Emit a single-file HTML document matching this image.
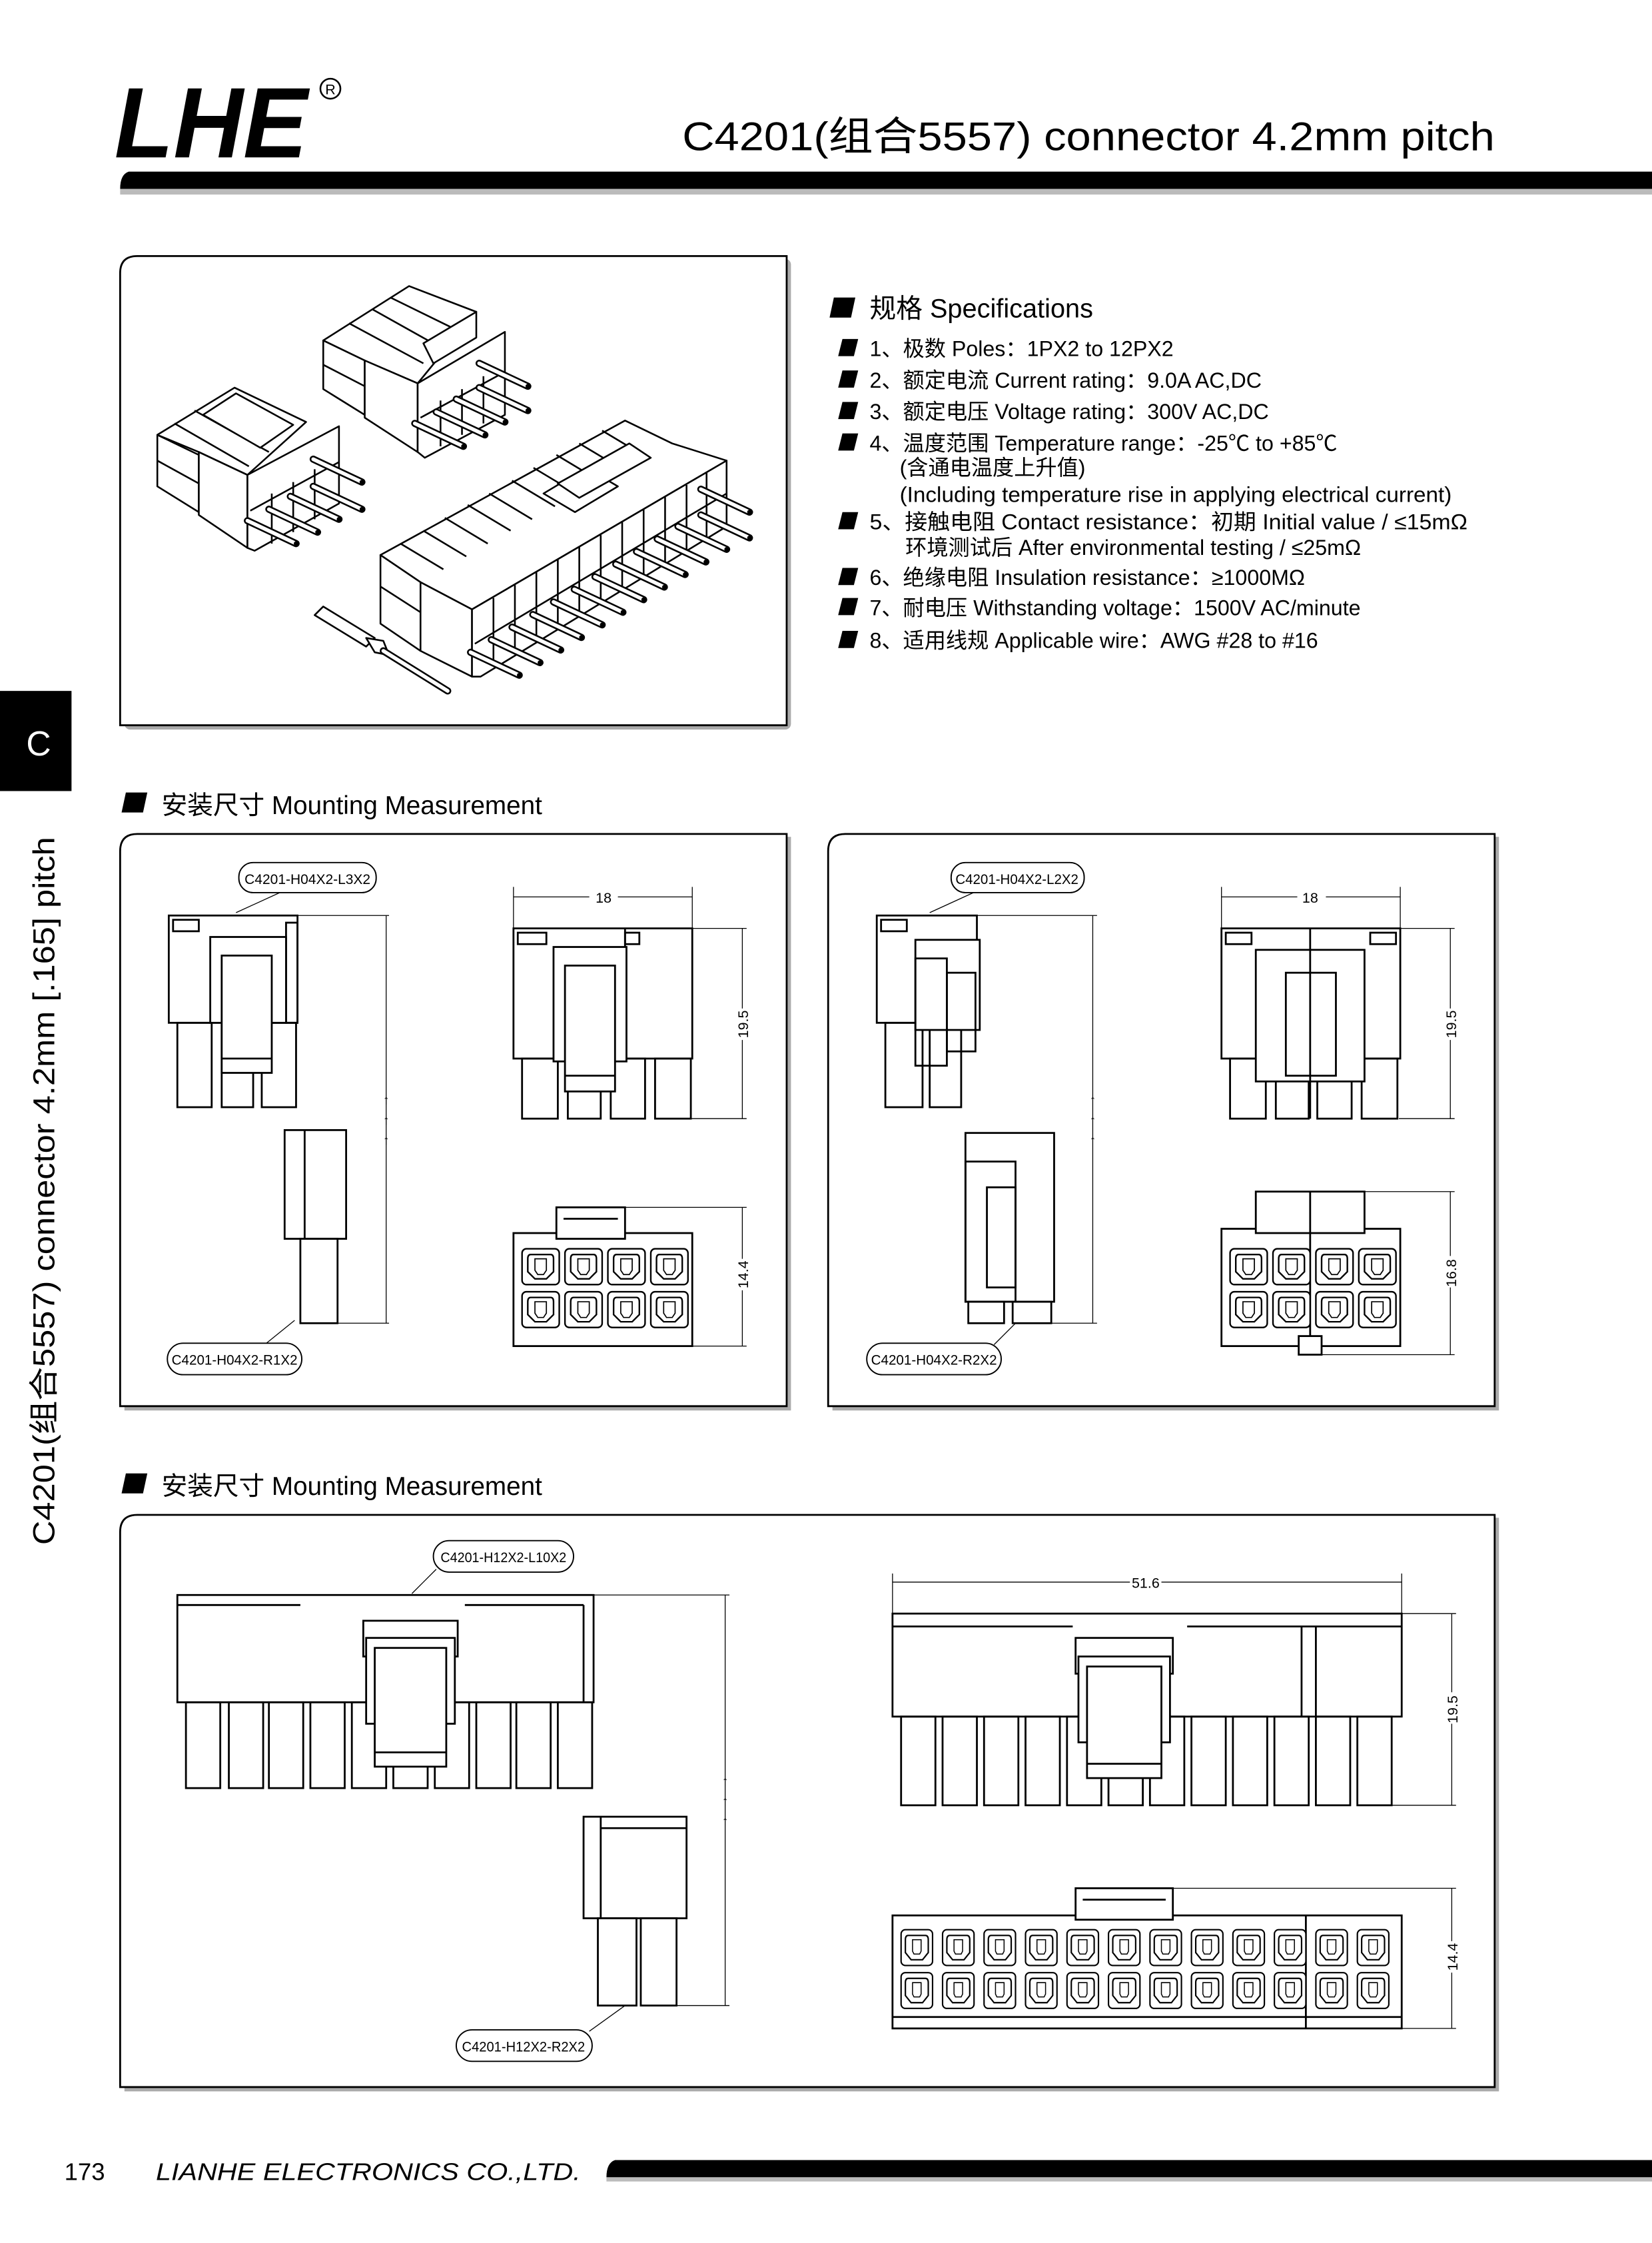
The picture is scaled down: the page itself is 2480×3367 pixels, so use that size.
<!DOCTYPE html>
<html><head><meta charset="utf-8"><style>
html,body{margin:0;padding:0;background:#fff}
svg{display:block}
text{font-family:"Liberation Sans","Noto Sans CJK SC",sans-serif}
</style></head><body>
<svg width="2480" height="3367" viewBox="0 0 1155 1568" preserveAspectRatio="none" xmlns="http://www.w3.org/2000/svg">
<defs>
<g id="cav">
<rect x="0" y="0" width="26" height="25" rx="3" fill="#fff" stroke="#000" stroke-width="1.1"/>
<path d="M6,4 H20 Q22,4 22,7 V16 L17,21 H9 L4,16 V7 Q4,4 6,4 Z" fill="none" stroke="#000" stroke-width="1.1"/>
<path d="M9,7 H17 V15 L15,18 H11 L9,15 Z" fill="none" stroke="#000" stroke-width="0.8"/>
</g>
<g id="cavs">
<rect x="0" y="0" width="22" height="25" rx="3" fill="#fff" stroke="#000" stroke-width="1"/>
<path d="M5,4 H17 Q19,4 19,7 V16 L15,21 H7 L3,16 V7 Q3,4 5,4 Z" fill="none" stroke="#000" stroke-width="1"/>
<path d="M8,7 H14 V15 L13,17 H9 L8,15 Z" fill="none" stroke="#000" stroke-width="0.7"/>
</g>
<g id="pin"><line x1="-34" y1="-16" x2="0" y2="0" stroke="#000" stroke-width="5" stroke-linecap="round"/><line x1="-34" y1="-16" x2="0" y2="0" stroke="#fff" stroke-width="2.6" stroke-linecap="round"/><circle cx="0" cy="0" r="1.6" fill="#000"/></g>
</defs>

<!-- Header -->
<text x="80" y="110" font-size="70" font-weight="bold" font-style="italic" textLength="135" lengthAdjust="spacingAndGlyphs">LHE</text>
<circle cx="231" cy="62" r="7" fill="none" stroke="#000" stroke-width="1.2"/>
<text x="231" y="66" font-size="10" text-anchor="middle">R</text>
<text x="477" y="105" font-size="28" textLength="568" lengthAdjust="spacingAndGlyphs">C4201(组合5557) connector 4.2mm pitch</text>
<rect x="84" y="132" width="1071" height="4" fill="#bbb"/>
<path d="M90,120 H1155 V132 H84 Q84,122 90,120 Z" fill="#000"/>

<!-- Left tab -->
<rect x="0" y="483" width="50" height="70" fill="#000"/>
<text x="27" y="528" font-size="24" fill="#fff" text-anchor="middle">C</text>
<text transform="translate(38,1080) rotate(-90)" font-size="21" textLength="495" lengthAdjust="spacingAndGlyphs">C4201(组合5557) connector 4.2mm [.165] pitch</text>

<!-- Panels -->
<g fill="#fff" stroke="#000" stroke-width="1.3">
<rect x="87" y="181" width="466" height="329" rx="4" fill="#aaa" stroke="none"/>
<path d="M96,179 H550 V507 H84 V191 Q84,179 96,179 Z"/>
<rect x="87" y="585" width="466" height="401" fill="#aaa" stroke="none"/>
<path d="M96,583 H550 V983 H84 V595 Q84,583 96,583 Z"/>
<rect x="582" y="585" width="466" height="401" fill="#aaa" stroke="none"/>
<path d="M591,583 H1045 V983 H579 V595 Q579,583 591,583 Z"/>
<rect x="87" y="1061" width="961" height="401" fill="#aaa" stroke="none"/>
<path d="M96,1059 H1045 V1459 H84 V1071 Q84,1059 96,1059 Z"/>
</g>

<!-- Specs -->
<g font-size="15">
<path d="M583,208 h15 l-3,14 h-15 z" fill="#000"/>
<text x="608" y="222" font-size="18.5">规格 Specifications</text>
<g fill="#000">
<path d="M589,237 h11 l-3,12 h-11 z"/><path d="M589,259 h11 l-3,12 h-11 z"/><path d="M589,281 h11 l-3,12 h-11 z"/><path d="M589,303 h11 l-3,12 h-11 z"/><path d="M589,358 h11 l-3,12 h-11 z"/><path d="M589,397 h11 l-3,12 h-11 z"/><path d="M589,418 h11 l-3,12 h-11 z"/><path d="M589,441 h11 l-3,12 h-11 z"/>
</g>
<text x="608" y="249">1、极数 Poles：1PX2 to 12PX2</text>
<text x="608" y="271">2、额定电流 Current rating：9.0A  AC,DC</text>
<text x="608" y="293">3、额定电压 Voltage rating：300V  AC,DC</text>
<text x="608" y="315">4、温度范围 Temperature range：-25℃ to +85℃</text>
<text x="629" y="332">(含通电温度上升值)</text>
<text x="629" y="351" textLength="386" lengthAdjust="spacingAndGlyphs">(Including temperature rise in applying electrical current)</text>
<text x="608" y="370" textLength="418" lengthAdjust="spacingAndGlyphs">5、接触电阻 Contact resistance：初期 Initial value / ≤15mΩ</text>
<text x="633" y="388">环境测试后 After environmental testing / ≤25mΩ</text>
<text x="608" y="409">6、绝缘电阻 Insulation resistance：≥1000MΩ</text>
<text x="608" y="430">7、耐电压 Withstanding voltage：1500V  AC/minute</text>
<text x="608" y="453">8、适用线规 Applicable wire：AWG #28 to #16</text>
</g>

<!-- Section headings -->
<path d="M88,554 h15 l-3,14 h-15 z" fill="#000"/>
<text x="113" y="569" font-size="18">安装尺寸 Mounting Measurement</text>
<path d="M88,1030 h15 l-3,14 h-15 z" fill="#000"/>
<text x="113" y="1045" font-size="18">安装尺寸 Mounting Measurement</text>

<!-- 3D drawing (approximate) -->
<g fill="#fff" stroke="#000" stroke-width="1.2" stroke-linejoin="round">
<!-- connector A -->
<polygon points="110,304 164,271 214,295 173,332 139,316"/>
<polygon points="110,304 139,318 139,358 110,340"/>
<polygon points="139,316 173,332 173,383 139,360"/>
<polygon points="173,332 237,298 237,352 178,385 173,383"/>
<line x1="110" y1="322" x2="139" y2="338"/><line x1="122" y1="296" x2="174" y2="326"/><line x1="136" y1="287" x2="188" y2="316"/>
<polygon points="142,290 165,275 205,297 182,313"/>
<line x1="190" y1="345" x2="190" y2="380"/><line x1="205" y1="337" x2="205" y2="372"/><line x1="220" y1="328" x2="220" y2="363"/>
<line x1="175" y1="357" x2="237" y2="323"/>
<!-- connector B -->
<polygon points="226,238 286,200 333,218 292,268 255,252"/>
<polygon points="226,238 255,252 255,290 226,272"/>
<polygon points="255,252 292,268 292,316 255,292"/>
<polygon points="292,268 353,232 353,290 297,320 292,316"/>
<line x1="226" y1="255" x2="255" y2="270"/><line x1="244" y1="226" x2="296" y2="254"/><line x1="260" y1="216" x2="310" y2="244"/><line x1="273" y1="208" x2="322" y2="232"/>
<polygon points="296,240 333,218 333,236 303,254"/>
<line x1="308" y1="280" x2="308" y2="312"/><line x1="323" y1="272" x2="323" y2="304"/><line x1="338" y1="263" x2="338" y2="296"/>
<line x1="294" y1="292" x2="353" y2="260"/>
<!-- connector C -->
<polygon points="266,388 437,294 470,310 508,322 330,426 294,407"/>
<polygon points="266,388 294,407 294,455 266,436"/>
<polygon points="294,407 330,426 330,473 294,455"/>
<polygon points="330,426 508,322 508,368 336,473 330,473"/>
<line x1="266" y1="410" x2="294" y2="428"/>
<line x1="280" y1="380" x2="310" y2="398"/><line x1="296" y1="371" x2="326" y2="389"/><line x1="311" y1="362" x2="341" y2="380"/><line x1="327" y1="353" x2="357" y2="371"/><line x1="342" y1="345" x2="372" y2="363"/><line x1="358" y1="336" x2="388" y2="354"/><line x1="373" y1="327" x2="403" y2="345"/><line x1="389" y1="318" x2="419" y2="336"/><line x1="405" y1="310" x2="435" y2="328"/><line x1="421" y1="301" x2="451" y2="319"/>
<polygon points="380,345 410,327 432,340 402,358" />
<polygon points="390,338 440,310 455,320 405,348"/>
<line x1="345" y1="418" x2="345" y2="465"/><line x1="360" y1="409" x2="360" y2="456"/><line x1="375" y1="400" x2="375" y2="447"/><line x1="390" y1="391" x2="390" y2="438"/><line x1="405" y1="382" x2="405" y2="429"/><line x1="420" y1="374" x2="420" y2="421"/><line x1="435" y1="365" x2="435" y2="412"/><line x1="450" y1="356" x2="450" y2="403"/><line x1="465" y1="347" x2="465" y2="394"/><line x1="480" y1="339" x2="480" y2="386"/><line x1="494" y1="330" x2="494" y2="377"/>
<line x1="332" y1="450" x2="508" y2="345"/>
<!-- terminal -->
<polygon points="220,430 226,424 262,446 256,452"/>
<polygon points="256,446 268,448 272,458 262,456"/>
</g>
<line x1="268" y1="455" x2="313" y2="483" stroke="#000" stroke-width="5" stroke-linecap="round"/>
<line x1="268" y1="455" x2="313" y2="483" stroke="#fff" stroke-width="2.6" stroke-linecap="round"/>
<g>
<use href="#pin" x="253" y="337"/><use href="#pin" x="253" y="356"/><use href="#pin" x="237" y="363"/><use href="#pin" x="222" y="372"/><use href="#pin" x="207" y="380"/>
<use href="#pin" x="369" y="270"/><use href="#pin" x="369" y="287"/><use href="#pin" x="353" y="295"/><use href="#pin" x="339" y="304"/><use href="#pin" x="324" y="312"/>
<use href="#pin" x="524" y="358"/><use href="#pin" x="524" y="376"/>
<use href="#pin" x="508" y="384"/><use href="#pin" x="493.5" y="392.8"/><use href="#pin" x="479" y="401.6"/><use href="#pin" x="464.5" y="410.4"/><use href="#pin" x="450" y="419.2"/><use href="#pin" x="435.5" y="428"/><use href="#pin" x="421" y="436.8"/><use href="#pin" x="406.5" y="445.6"/><use href="#pin" x="392" y="454.4"/><use href="#pin" x="377.5" y="463.2"/><use href="#pin" x="363" y="472"/>
</g>

<!-- Common drawing style -->
<g fill="none" stroke="#000" stroke-width="1.3">
<!-- ===== Panel 2 ===== -->
<rect x="118" y="640" width="90" height="75" fill="#fff"/>
<rect x="124" y="715" width="24" height="59"/><rect x="155" y="715" width="22" height="59"/><rect x="183" y="715" width="24" height="59"/>
<rect x="200" y="645" width="8" height="70"/>
<rect x="147" y="655" width="53" height="60" fill="#fff"/>
<rect x="155" y="668" width="35" height="82" fill="#fff"/>
<line x1="155" y1="740" x2="190" y2="740"/>
<rect x="121" y="643" width="18" height="8"/>
<rect x="199" y="790" width="43" height="76" fill="#fff"/><line x1="213" y1="790" x2="213" y2="866"/>
<rect x="210" y="866" width="26" height="59"/>
<rect x="359" y="649" width="125" height="91" fill="#fff"/>
<line x1="437" y1="649" x2="437" y2="740"/>
<rect x="365" y="740" width="25" height="42"/><rect x="397" y="740" width="23" height="42"/><rect x="427" y="740" width="24" height="42"/><rect x="458" y="740" width="25" height="42"/>
<rect x="387" y="662" width="51" height="80" fill="#fff"/>
<rect x="395" y="675" width="35" height="88" fill="#fff"/>
<line x1="395" y1="752" x2="430" y2="752"/>
<rect x="362" y="652" width="20" height="8"/><rect x="437" y="652" width="10" height="8"/>
<rect x="359" y="862" width="125" height="79" fill="#fff"/>
<rect x="389" y="844" width="48" height="22" fill="#fff"/>
<line x1="394" y1="852" x2="432" y2="852"/>
</g>
<use href="#cav" x="365" y="873"/><use href="#cav" x="395" y="873"/><use href="#cav" x="425" y="873"/><use href="#cav" x="455" y="873"/>
<use href="#cav" x="365" y="903"/><use href="#cav" x="395" y="903"/><use href="#cav" x="425" y="903"/><use href="#cav" x="455" y="903"/>

<g fill="none" stroke="#000" stroke-width="0.6">
<line x1="208" y1="640" x2="272" y2="640"/><line x1="270" y1="640" x2="270" y2="925"/><line x1="236" y1="925" x2="272" y2="925"/>
<line x1="359" y1="627" x2="484" y2="627"/><line x1="359" y1="620" x2="359" y2="649"/><line x1="484" y1="620" x2="484" y2="649"/>
<line x1="484" y1="649" x2="522" y2="649"/><line x1="519" y1="649" x2="519" y2="782"/><line x1="483" y1="782" x2="522" y2="782"/>
<line x1="437" y1="844" x2="522" y2="844"/><line x1="519" y1="844" x2="519" y2="941"/><line x1="484" y1="941" x2="522" y2="941"/>
<line x1="200" y1="622" x2="165" y2="638"/><line x1="206" y1="923" x2="185" y2="940"/>
</g>
<g fill="#fff" stroke="#000" stroke-width="0.9">
<rect x="167" y="603" width="96" height="21" rx="10"/><rect x="117" y="939" width="94" height="22" rx="11"/>
<rect x="412" y="622" width="20" height="10" stroke="none"/><rect x="512" y="705" width="14" height="22" stroke="none"/><rect x="512" y="880" width="14" height="22" stroke="none"/>
</g>
<g font-size="10" text-anchor="middle">
<text x="215" y="618" textLength="88" lengthAdjust="spacingAndGlyphs">C4201-H04X2-L3X2</text>
<text x="164" y="954" textLength="88" lengthAdjust="spacingAndGlyphs">C4201-H04X2-R1X2</text>
<text x="422" y="631">18</text>
<text transform="translate(523,716) rotate(-90)">19.5</text>
<text transform="translate(523,891) rotate(-90)">14.4</text>
<text x="270" y="772" font-size="9">↑</text><text x="270" y="786" font-size="9">↑</text><text x="270" y="800" font-size="9">↑</text>
</g>

<!-- ===== Panel 3 ===== -->
<g fill="none" stroke="#000" stroke-width="1.3">
<rect x="613" y="640" width="70" height="75" fill="#fff"/>
<rect x="619" y="715" width="26" height="59"/><rect x="650" y="715" width="22" height="59"/>
<rect x="640" y="657" width="45" height="63" fill="#fff"/>
<rect x="640" y="670" width="22" height="75"/>
<rect x="662" y="680" width="20" height="55"/>
<rect x="616" y="643" width="18" height="8"/>
<rect x="675" y="792" width="62" height="118" fill="#fff"/>
<rect x="675" y="812" width="35" height="98"/>
<rect x="690" y="830" width="20" height="70"/>
<rect x="677" y="910" width="25" height="15"/><rect x="708" y="910" width="27" height="15"/>
<rect x="854" y="649" width="125" height="91" fill="#fff"/><line x1="916" y1="649" x2="916" y2="782"/>
<rect x="860" y="740" width="25" height="42"/><rect x="892" y="740" width="23" height="42"/><rect x="921" y="740" width="24" height="42"/><rect x="952" y="740" width="25" height="42"/>
<rect x="878" y="664" width="76" height="92" fill="#fff"/><line x1="916" y1="664" x2="916" y2="756"/>
<rect x="899" y="680" width="35" height="72"/>
<rect x="857" y="652" width="18" height="8"/><rect x="958" y="652" width="18" height="8"/>
<rect x="854" y="859" width="125" height="82" fill="#fff"/>
<rect x="878" y="833" width="76" height="29" fill="#fff"/><line x1="916" y1="833" x2="916" y2="941"/>
<rect x="908" y="934" width="16" height="13" fill="#fff"/>
</g>
<use href="#cav" x="860" y="873"/><use href="#cav" x="890" y="873"/><use href="#cav" x="920" y="873"/><use href="#cav" x="950" y="873"/>
<use href="#cav" x="860" y="903"/><use href="#cav" x="890" y="903"/><use href="#cav" x="920" y="903"/><use href="#cav" x="950" y="903"/>
<g fill="none" stroke="#000" stroke-width="0.6">
<line x1="683" y1="640" x2="767" y2="640"/><line x1="764" y1="640" x2="764" y2="925"/><line x1="735" y1="925" x2="767" y2="925"/>
<line x1="854" y1="627" x2="979" y2="627"/><line x1="854" y1="620" x2="854" y2="649"/><line x1="979" y1="620" x2="979" y2="649"/>
<line x1="979" y1="649" x2="1017" y2="649"/><line x1="1014" y1="649" x2="1014" y2="782"/><line x1="978" y1="782" x2="1017" y2="782"/>
<line x1="954" y1="833" x2="1017" y2="833"/><line x1="1014" y1="833" x2="1014" y2="947"/><line x1="924" y1="947" x2="1017" y2="947"/>
<line x1="685" y1="622" x2="650" y2="638"/><line x1="710" y1="925" x2="695" y2="940"/>
</g>
<g fill="#fff" stroke="#000" stroke-width="0.9">
<rect x="665" y="603" width="93" height="21" rx="10"/><rect x="606" y="939" width="94" height="22" rx="11"/>
<rect x="907" y="622" width="20" height="10" stroke="none"/><rect x="1007" y="705" width="14" height="22" stroke="none"/><rect x="1007" y="878" width="14" height="22" stroke="none"/>
</g>
<g font-size="10" text-anchor="middle">
<text x="711" y="618" textLength="86" lengthAdjust="spacingAndGlyphs">C4201-H04X2-L2X2</text>
<text x="653" y="954" textLength="88" lengthAdjust="spacingAndGlyphs">C4201-H04X2-R2X2</text>
<text x="916" y="631">18</text>
<text transform="translate(1018,716) rotate(-90)">19.5</text>
<text transform="translate(1018,890) rotate(-90)">16.8</text>
<text x="764" y="772" font-size="9">↑</text><text x="764" y="786" font-size="9">↑</text><text x="764" y="800" font-size="9">↑</text>
</g>

<!-- ===== Panel 4 ===== -->
<g fill="none" stroke="#000" stroke-width="1.3">
<rect x="124" y="1115" width="291" height="75" fill="#fff"/>
<line x1="124" y1="1122" x2="210" y2="1122"/><line x1="325" y1="1122" x2="408" y2="1122"/><line x1="408" y1="1122" x2="408" y2="1190"/>
<rect x="130" y="1190" width="24" height="60"/><rect x="160" y="1190" width="24" height="60"/><rect x="188" y="1190" width="24" height="60"/><rect x="217" y="1190" width="24" height="60"/><rect x="246" y="1190" width="24" height="60"/><rect x="275" y="1190" width="24" height="60"/><rect x="304" y="1190" width="24" height="60"/><rect x="333" y="1190" width="24" height="60"/><rect x="361" y="1190" width="24" height="60"/><rect x="390" y="1190" width="24" height="60"/>
<rect x="254" y="1133" width="66" height="25" fill="#fff"/>
<rect x="256" y="1145" width="62" height="60" fill="#fff"/>
<rect x="262" y="1152" width="50" height="83" fill="#fff"/><line x1="262" y1="1225" x2="312" y2="1225"/>
<rect x="408" y="1270" width="72" height="71" fill="#fff"/><line x1="420" y1="1270" x2="420" y2="1341"/><line x1="420" y1="1278" x2="480" y2="1278"/>
<rect x="418" y="1341" width="27" height="61"/><rect x="448" y="1341" width="25" height="61"/>
<rect x="624" y="1128" width="356" height="72" fill="#fff"/>
<line x1="624" y1="1137" x2="750" y2="1137"/><line x1="830" y1="1137" x2="980" y2="1137"/><line x1="910" y1="1137" x2="910" y2="1200"/><line x1="920" y1="1137" x2="920" y2="1200"/>
<rect x="630" y="1200" width="24" height="62"/><rect x="659" y="1200" width="24" height="62"/><rect x="688" y="1200" width="24" height="62"/><rect x="717" y="1200" width="24" height="62"/><rect x="746" y="1200" width="24" height="62"/><rect x="775" y="1200" width="24" height="62"/><rect x="804" y="1200" width="24" height="62"/><rect x="833" y="1200" width="24" height="62"/><rect x="862" y="1200" width="24" height="62"/><rect x="891" y="1200" width="24" height="62"/><rect x="920" y="1200" width="24" height="62"/><rect x="949" y="1200" width="24" height="62"/>
<rect x="752" y="1145" width="68" height="25" fill="#fff"/>
<rect x="754" y="1158" width="64" height="60" fill="#fff"/>
<rect x="760" y="1165" width="52" height="78" fill="#fff"/><line x1="760" y1="1233" x2="812" y2="1233"/>
<rect x="624" y="1339" width="356" height="79" fill="#fff"/>
<rect x="752" y="1320" width="68" height="22" fill="#fff"/><line x1="757" y1="1328" x2="815" y2="1328"/>
<line x1="913" y1="1339" x2="913" y2="1418"/>
<line x1="624" y1="1410" x2="980" y2="1410"/>
</g>
<g>
<use href="#cavs" x="630" y="1349"/><use href="#cavs" x="659" y="1349"/><use href="#cavs" x="688" y="1349"/><use href="#cavs" x="717" y="1349"/><use href="#cavs" x="746" y="1349"/><use href="#cavs" x="775" y="1349"/><use href="#cavs" x="804" y="1349"/><use href="#cavs" x="833" y="1349"/><use href="#cavs" x="862" y="1349"/><use href="#cavs" x="891" y="1349"/><use href="#cavs" x="920" y="1349"/><use href="#cavs" x="949" y="1349"/>
<use href="#cavs" x="630" y="1379"/><use href="#cavs" x="659" y="1379"/><use href="#cavs" x="688" y="1379"/><use href="#cavs" x="717" y="1379"/><use href="#cavs" x="746" y="1379"/><use href="#cavs" x="775" y="1379"/><use href="#cavs" x="804" y="1379"/><use href="#cavs" x="833" y="1379"/><use href="#cavs" x="862" y="1379"/><use href="#cavs" x="891" y="1379"/><use href="#cavs" x="920" y="1379"/><use href="#cavs" x="949" y="1379"/>
</g>
<g fill="none" stroke="#000" stroke-width="0.6">
<line x1="415" y1="1115" x2="510" y2="1115"/><line x1="507" y1="1115" x2="507" y2="1402"/><line x1="473" y1="1402" x2="510" y2="1402"/>
<line x1="624" y1="1106" x2="980" y2="1106"/><line x1="624" y1="1100" x2="624" y2="1128"/><line x1="980" y1="1100" x2="980" y2="1128"/>
<line x1="980" y1="1128" x2="1018" y2="1128"/><line x1="1015" y1="1128" x2="1015" y2="1262"/><line x1="973" y1="1262" x2="1018" y2="1262"/>
<line x1="820" y1="1320" x2="1018" y2="1320"/><line x1="1015" y1="1320" x2="1015" y2="1418"/><line x1="980" y1="1418" x2="1018" y2="1418"/>
<line x1="305" y1="1097" x2="288" y2="1114"/><line x1="437" y1="1402" x2="412" y2="1420"/>
</g>
<g fill="#fff" stroke="#000" stroke-width="0.9">
<rect x="303" y="1077" width="98" height="22" rx="11"/><rect x="319" y="1419" width="95" height="22" rx="11"/>
<rect x="790" y="1100" width="22" height="10" stroke="none"/><rect x="1008" y="1183" width="14" height="22" stroke="none"/><rect x="1008" y="1357" width="14" height="22" stroke="none"/>
</g>
<g font-size="10" text-anchor="middle">
<text x="352" y="1092" textLength="88" lengthAdjust="spacingAndGlyphs">C4201-H12X2-L10X2</text>
<text x="366" y="1434" textLength="86" lengthAdjust="spacingAndGlyphs">C4201-H12X2-R2X2</text>
<text x="801" y="1110">51.6</text>
<text transform="translate(1019,1195) rotate(-90)">19.5</text>
<text transform="translate(1019,1368) rotate(-90)">14.4</text>
<text x="507" y="1248" font-size="9">↑</text><text x="507" y="1262" font-size="9">↑</text><text x="507" y="1276" font-size="9">↑</text>
</g>

<!-- Footer -->
<text x="45" y="1524" font-size="17">173</text>
<text x="109" y="1524" font-size="17" font-style="italic" textLength="297" lengthAdjust="spacingAndGlyphs">LIANHE ELECTRONICS CO.,LTD.</text>
<rect x="424" y="1522" width="731" height="3" fill="#bbb"/>
<path d="M430,1510 H1155 V1522 H424 Q424,1512 430,1510 Z" fill="#000"/>
</svg>
</body></html>
